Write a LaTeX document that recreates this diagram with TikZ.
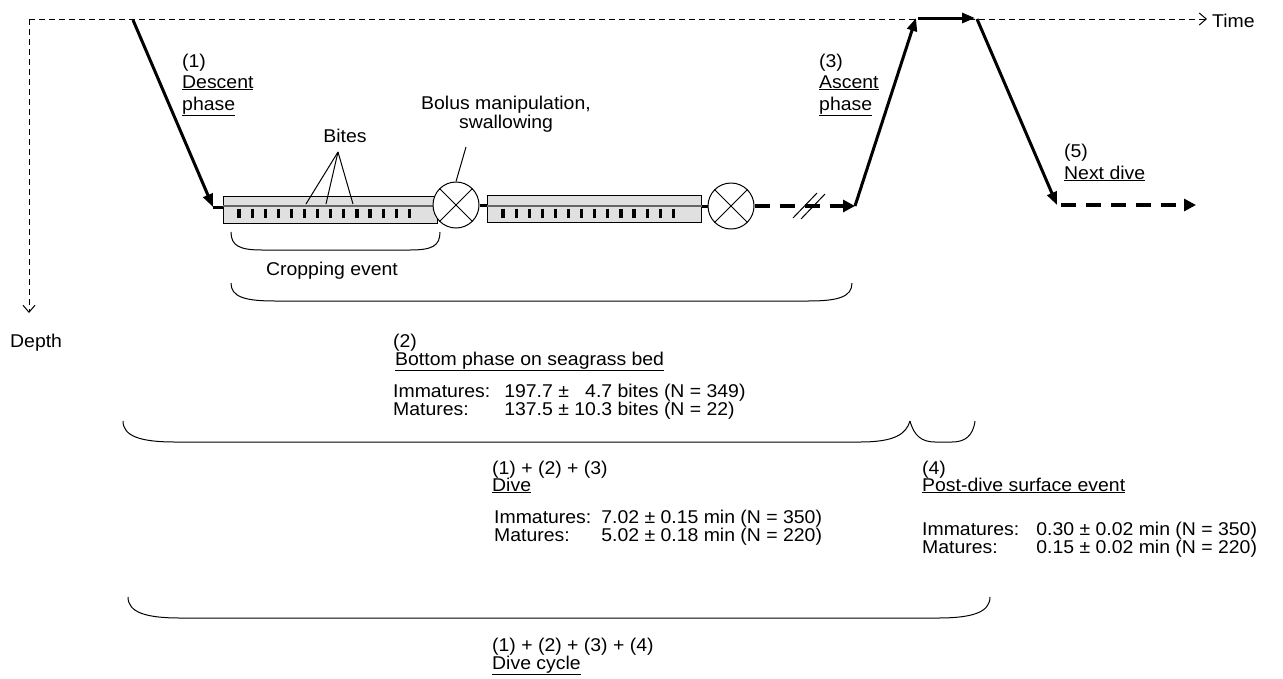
\documentclass[tikz,border=0pt]{standalone}
\usepackage{fontspec}
\setmainfont{Liberation Sans}[FakeStretch=1.05]
\usetikzlibrary{arrows.meta}
\newcommand\uln[1]{\underline{#1}}
\begin{document}
\begin{tikzpicture}[x=1pt,y=-1pt,
  txt/.style={inner sep=0pt, anchor=base west, font=\fontsize{18.5}{21}\selectfont},
  ctxt/.style={inner sep=0pt, anchor=base, font=\fontsize{18.5}{21}\selectfont},
  dtab/.style={inner sep=0pt, anchor=base west, font=\fontsize{18.5}{17}\selectfont},
  axis/.style={line width=1pt, dash pattern=on 6pt off 4pt, -{Straight Barb[length=7pt,width=12pt,line width=1pt]}},
  thick path/.style={line width=3pt, -{Triangle[length=13pt,width=10pt]}},
  bottom dash/.style={line width=4pt, dash pattern=on 15pt off 10pt, -{Triangle[length=12pt,width=12pt]}},
  bitebox/.style={draw, line width=1pt, fill=black!12, minimum width=214pt, minimum height=27pt, anchor=north west, inner sep=0pt},
  swallow/.style={circle, draw, line width=1pt, fill=white, minimum size=46pt, inner sep=0pt},
  tick/.style={line width=3.2pt},
  thin/.style={line width=1pt},
  brace/.style={line width=1pt}
]
\useasboundingbox (0,0) rectangle (1283,678);

% axes
\coordinate (origin) at (29,19);
\coordinate (timeend) at (1207,19);
\coordinate (depthend) at (29,313);
\draw[axis] (origin) -- (timeend);
\draw[axis] (origin) -- (depthend);
\node[txt] (time) at (1212,27) {Time};
\node[txt] (depth) at (10,347) {Depth};

% dive profile
\coordinate (d0) at (133,20);
\coordinate (d1) at (213,207);
\coordinate (d2) at (224,207);
\draw[thick path] (d0) -- (d1);
\draw[line width=3pt] (d1) -- (d2);

% box 1
\node[bitebox] (b1) at (223,196) {};
\draw[line width=2.5pt, black!60] (b1.west |- 0,206) -- (b1.east |- 0,206);
\foreach \i in {0,...,13} \draw[tick] ({239+13.1*\i},208.5) -- ({239+13.1*\i},218);
\node[swallow] (c1) at (456,205) {};
\draw[thin] (c1.north west) -- (c1.south east);
\draw[thin] (c1.north east) -- (c1.south west);

% box 2
\node[bitebox] (b2) at (487,195) {};
\draw[line width=3pt] (c1.east) -- (b2.west |- c1.east);
\draw[line width=2.5pt, black!60] (b2.west |- 0,206) -- (b2.east |- 0,206);
\foreach \i in {0,...,13} \draw[tick] ({503+13.1*\i},208.5) -- ({503+13.1*\i},218);
\node[swallow] (c2) at (731,206) {};
\draw[thin] (c2.north west) -- (c2.south east);
\draw[thin] (c2.north east) -- (c2.south west);
\draw[line width=3pt] (b2.east |- c2.west) -- (c2.west);

% continuation with break
\coordinate (a0) at (855,206);
\draw[bottom dash] (c2.east) -- (a0);
\draw[thin] (793,218) -- (817,193);
\draw[thin] (801,219) -- (825,194);

% ascent, surface, next dive
\coordinate (a1) at (916,18);
\coordinate (s1) at (918,18);
\coordinate (s2) at (975,18);
\coordinate (n0) at (977,19);
\coordinate (n1) at (1057,205);
\coordinate (n2) at (1061,205);
\coordinate (n3) at (1196,205);
\draw[thick path] (a0) -- (a1);
\draw[thick path] (s1) -- (s2);
\draw[thick path] (n0) -- (n1);
\draw[bottom dash] (n2) -- (n3);

% phase labels
\node[txt] (l1a) at (182,67) {(1)};
\node[txt] (l1b) at (182,88) {\uln{Descent}};
\node[txt] (l1c) at (182,110) {\uln{phase}};
\node[txt] (l3a) at (819,67) {(3)};
\node[txt] (l3b) at (819,88) {\uln{Ascent}};
\node[txt] (l3c) at (819,110) {\uln{phase}};
\node[txt] (l5a) at (1064,157) {(5)};
\node[txt] (l5b) at (1064,179) {\uln{Next dive}};

% bites
\node[ctxt] (bites) at (345,142) {Bites};
\coordinate (bapex) at (338,152);
\coordinate (bt1) at (306,204);
\coordinate (bt2) at (326,204);
\coordinate (bt3) at (353,204);
\draw[thin] (bapex) -- (bt1);
\draw[thin] (bapex) -- (bt2);
\draw[thin] (bapex) -- (bt3);

% bolus
\node[ctxt] (bolus1) at (506,109) {Bolus manipulation,};
\node[ctxt] (bolus2) at (506,128) {swallowing};
\coordinate (bl0) at (466,147);
\draw[thin] (bl0) -- (c1.north);

% braces
\draw[brace] (231,232) .. controls (231,246) and (240,250) .. (262,250) -- (410,250) .. controls (432,250) and (440,246) .. (440,232);
\node[ctxt] (crop) at (332,275) {Cropping event};
\draw[brace] (231,283) .. controls (231,297) and (245,301) .. (275,301) -- (808,301) .. controls (838,301) and (852,297) .. (852,283);
\draw[brace] (123,421) .. controls (123,436) and (140,442) .. (175,442) -- (860,442) .. controls (895,442) and (906,434) .. (910,421);
\draw[brace] (910,421) .. controls (914,436) and (922,442) .. (935,442) -- (952,442) .. controls (965,442) and (973,436) .. (975,421);
\draw[brace] (128,597) .. controls (128,612) and (145,618) .. (180,618) -- (938,618) .. controls (973,618) and (990,612) .. (990,597);

% bottom phase text
\node[txt] (t2a) at (393,347) {(2)};
\node[txt] (t2b) at (395,365) {\uln{Bottom phase on seagrass bed}};
\node[dtab] (t2c) at (393,397) {\begin{tabular}[t]{@{}l@{\hspace{14pt}}r@{ ± }r@{ }l@{}}
Immatures: & 197.7 & 4.7 & bites (N = 349)\\
Matures: & 137.5 & 10.3 & bites (N = 22)
\end{tabular}};

% dive text
\node[txt] (t3a) at (492,474) {(1) + (2) + (3)};
\node[txt] (t3b) at (492,491) {\uln{Dive}};
\node[dtab] (t3c) at (494,523) {\begin{tabular}[t]{@{}l@{\hspace{10pt}}l@{}}
Immatures: & 7.02 ± 0.15 min (N = 350)\\
Matures: & 5.02 ± 0.18 min (N = 220)
\end{tabular}};

% post-dive text
\node[txt] (t4a) at (922,474) {(4)};
\node[txt] (t4b) at (922,491) {\uln{Post-dive surface event}};
\node[dtab] (t4c) at (922,535) {\begin{tabular}[t]{@{}l@{\hspace{17pt}}l@{}}
Immatures: & 0.30 ± 0.02 min (N = 350)\\
Matures: & 0.15 ± 0.02 min (N = 220)
\end{tabular}};

% dive cycle text
\node[txt] (t5a) at (492,651) {(1) + (2) + (3) + (4)};
\node[txt] (t5b) at (492,669) {\uln{Dive cycle}};
\end{tikzpicture}
\end{document}
